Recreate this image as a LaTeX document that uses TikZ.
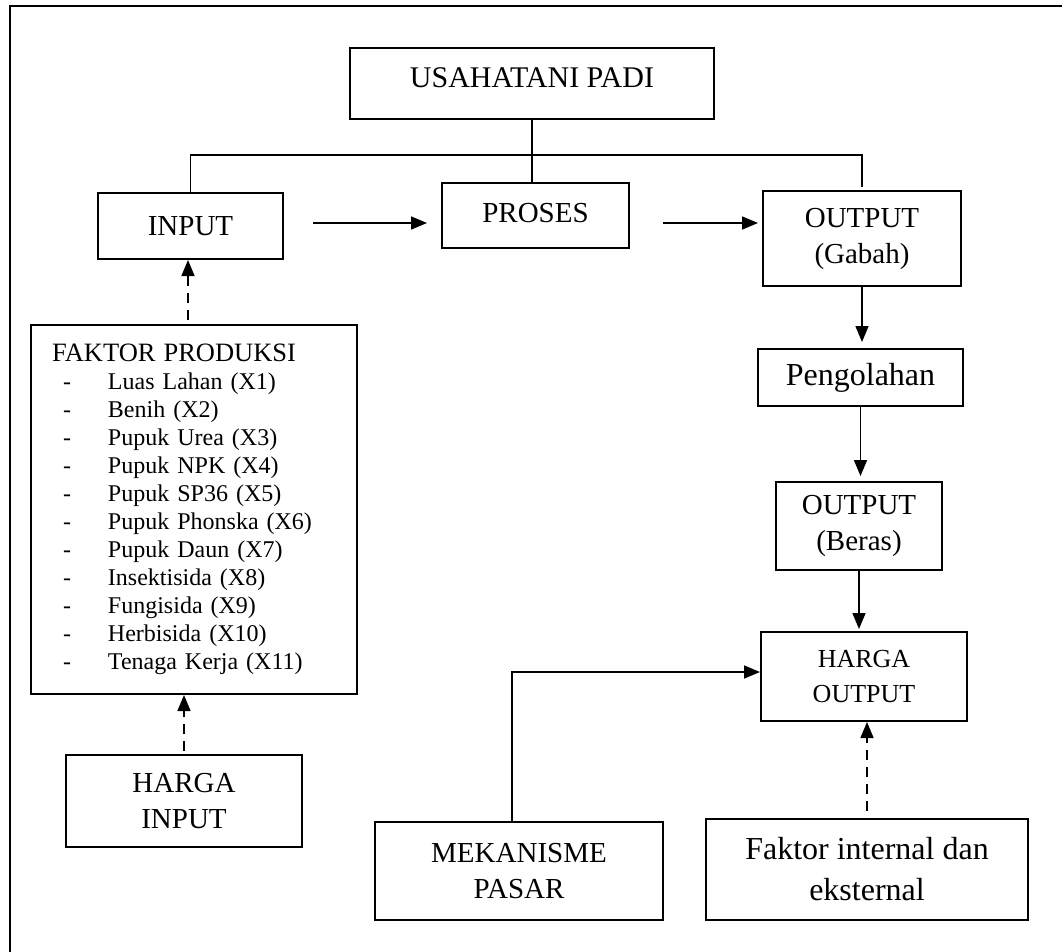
\documentclass[tikz,border=0pt]{standalone}
\usepackage{fontspec}
\setmainfont{Liberation Serif}
\usetikzlibrary{arrows.meta}

\tikzset{
	box/.style={draw, line width=2pt, align=center, inner sep=0pt,
		font=\fontsize{29}{36}\selectfont},
	arr/.style={-{Triangle[length=16pt,width=13pt]}, line width=1.6pt},
	dasharr/.style={arr, dash pattern=on 10pt off 7pt},
	link/.style={line width=1.6pt}
}
\newcommand{\butir}[1]{\hspace*{11pt}\makebox[45pt][l]{-}#1}

\begin{document}
\begin{tikzpicture}[x=1pt,y=-1pt]
	\useasboundingbox (0,0) rectangle (1062,952);
	\draw[line width=2.5pt] (10,952) -- (10,6) -- (1062,6);

	\node[box, minimum width=364pt, minimum height=71pt, font=\fontsize{30}{36}\selectfont] (top) at (532,83.5) {\raisebox{12pt}{USAHATANI PADI}};
	\node[box, minimum width=185pt, minimum height=66pt] (input) at (190.5,226) {INPUT};
	\node[box, minimum width=187pt, minimum height=65pt] (proses) at (535.5,215.5) {\raisebox{6pt}{PROSES}};
	\node[box, minimum width=198pt, minimum height=95pt] (outgabah) at (862,238.5) {OUTPUT\\(Gabah)};
	\node[box, minimum width=205pt, minimum height=57pt, font=\fontsize{32}{38}\selectfont] (olah) at (860.5,377.5) {Pengolahan};
	\node[box, minimum width=166pt, minimum height=88pt] (outberas) at (859,526) {OUTPUT\\(Beras)};
	\node[box, minimum width=206pt, minimum height=89pt, font=\fontsize{26}{35}\selectfont] (hargaout) at (864,676.5) {HARGA\\OUTPUT};
	\node[box, minimum width=288pt, minimum height=98pt] (mekanisme) at (519,871) {MEKANISME\\PASAR};
	\node[box, minimum width=322pt, minimum height=101pt, font=\fontsize{32}{41}\selectfont] (faktorluar) at (867,869.5) {Faktor internal dan\\eksternal};
	\node[box, minimum width=236pt, minimum height=92pt] (hargain) at (184,801) {HARGA\\INPUT};
	\node[box, minimum width=326pt, minimum height=369pt, text width=284pt, align=left,
		font=\fontsize{24}{28}\selectfont] (faktor) at (194,509.5) {{\fontsize{26.5}{28}\selectfont FAKTOR PRODUKSI}\\
		\butir{Luas Lahan (X1)}\\
		\butir{Benih (X2)}\\
		\butir{Pupuk Urea (X3)}\\
		\butir{Pupuk NPK (X4)}\\
		\butir{Pupuk SP36 (X5)}\\
		\butir{Pupuk Phonska (X6)}\\
		\butir{Pupuk Daun (X7)}\\
		\butir{Insektisida (X8)}\\
		\butir{Fungisida (X9)}\\
		\butir{Herbisida (X10)}\\
		\butir{Tenaga Kerja (X11)}};

	\coordinate (bus) at (532,155);
	\draw[link] (top.south) -- (top.south |- proses.north);
	\draw[link] (input.north) -- (input.north |- bus) -- (outgabah.north |- bus) -- ([yshift=3pt]outgabah.north);

	\draw[arr, shorten <=29pt, shorten >=14pt] ([yshift=3pt]input.east) -- ([yshift=3pt]input.east -| proses.west);
	\draw[arr, shorten <=33pt, shorten >=4pt] ([yshift=-7.5pt]proses.east) -- ([yshift=-7.5pt]proses.east -| outgabah.west);
	\draw[arr, shorten >=6pt] (outgabah.south) -- (outgabah.south |- olah.north);
	\draw[arr, shorten >=5pt] (olah.south) -- (olah.south |- outberas.north);
	\draw[arr, shorten >=2pt] (outberas.south) -- (outberas.south |- hargaout.north);
	\draw[arr] ([xshift=-7pt]mekanisme.north) |- ([yshift=4.5pt]hargaout.west);

	\draw[dasharr, shorten <=7pt] (faktorluar.north) -- (faktorluar.north |- hargaout.south);
	\draw[dasharr, shorten <=3pt] (hargain.north) -- (hargain.north |- faktor.south);
	\draw[dasharr, shorten <=4pt] ([xshift=-6pt]faktor.north) -- ([xshift=-6pt]faktor.north |- input.south);
\end{tikzpicture}
\end{document}
